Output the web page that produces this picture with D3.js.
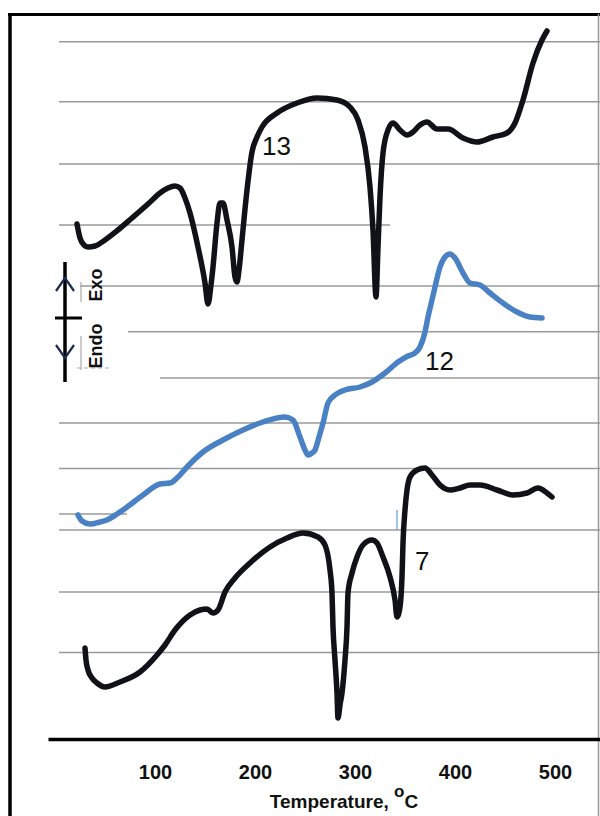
<!DOCTYPE html>
<html><head><meta charset="utf-8">
<script src="https://cdn.jsdelivr.net/npm/d3@7"></script>
<style>
html,body{margin:0;padding:0;background:#fff;}
svg{display:block;font-family:Arial,"Liberation Sans",sans-serif;}
</style></head>
<body>
<svg id="chart" width="600" height="816"></svg>
<script>
// ---- data (temperature °C, signal in arbitrary DTA units) ----
const xTicks = [100, 200, 300, 400, 500];
const curve13 = [[22,51.5],[25,50.1],[29,49.4],[33,49.2],[40,49.3],[50,49.9],[63,50.9],[77,52.1],[93,53.5],[105,54.6],[113,55.1],[120,55.3],[125,55.1],[130,54.1],[135,52.6],[143,49.2],[150,45.6],[153,43.5],[156,45.4],[158,47.2],[162,51.6],[165,53.6],[168,53.6],[172,51.9],[177,49.2],[180,46.2],[182,45.7],[184,46.9],[187,49.9],[192,54.9],[197,58.7],[202,60.2],[207,61.2],[222,62.6],[242,63.6],[262,64.1],[282,63.9],[295,63.2],[303,61.9],[310,59.2],[315,55.2],[318,50.9],[321,44.2],[323,49.2],[325,54.2],[328,58.6],[333,60.9],[338,61.6],[345,60.9],[352,60.4],[358,60.7],[365,61.4],[372,61.7],[382,61.0],[393,61.0],[408,60.1],[422,59.7],[438,60.2],[452,60.6],[460,61.6],[468,63.9],[478,67.6],[487,69.9],[492,70.8]];
const curve12 = [[23,22.4],[27,21.8],[35,21.5],[45,21.7],[52,21.9],[62,22.5],[72,23.2],[88,24.4],[105,25.5],[115,25.6],[123,26.2],[132,27.2],[148,28.7],[168,29.9],[188,30.9],[208,31.7],[230,32.2],[238,31.9],[245,30.2],[250,28.9],[253,28.4],[257,28.6],[260,28.9],[264,30.2],[268,31.6],[273,33.6],[280,34.4],[290,34.9],[305,35.2],[317,35.7],[330,36.6],[343,37.7],[353,38.3],[360,38.6],[365,39.2],[370,40.7],[373,42.2],[377,43.9],[380,45.2],[385,47.2],[390,48.2],[395,48.5],[400,48.1],[408,46.6],[415,45.6],[425,45.4],[435,44.6],[448,43.6],[462,42.7],[475,42.2],[487,42.1]];
const curve7 = [[30,9.1],[31,7.9],[33,6.9],[37,6.1],[42,5.6],[50,5.2],[65,5.7],[85,6.7],[102,8.4],[110,9.4],[120,10.9],[135,12.4],[145,12.9],[152,13.0],[158,12.6],[163,12.9],[170,14.7],[180,16.1],[195,17.6],[215,19.2],[232,20.1],[248,20.6],[263,20.2],[270,19.4],[275,16.9],[277,14.6],[278,11.2],[280,7.9],[282,4.6],[283,2.1],[285,3.4],[287,4.6],[290,7.9],[292,11.2],[293,14.6],[297,16.6],[302,18.2],[308,19.4],[317,19.9],[322,19.6],[328,18.2],[335,16.2],[340,13.9],[342,12.2],[345,13.2],[347,16.2],[348,19.6],[350,22.9],[352,24.9],[355,26.2],[362,26.9],[370,27.1],[377,26.4],[385,25.4],[395,24.9],[405,25.1],[415,25.4],[425,25.4],[442,24.9],[458,24.4],[472,24.6],[483,25.1],[492,24.6],[497,24.2]];
const seriesNames = ["13", "12", "7"];
const seriesColors = ["#111118", "#4a80c4", "#111118"];
const labelPos = [[207, 58.4], [370, 36.9], [360, 16.9]];
const gridValues = [69.73, 63.73, 57.5, 51.4, 45.3, 40.73, 36.1, 31.6, 27.05, 22.5, 20.9, 14.7, 8.65];
const gridFrom   = [4, 4, 4, 4, 25, 73, 105, 4, 4, 4, 4, 4, 4];
const gridTo     = [545, 545, 545, 335, 545, 545, 545, 545, 545, 72, 545, 545, 545];
const xLabel = "Temperature, ";

// ---- scales ----
const svg = d3.select("#chart");
const x = d3.scaleLinear().domain([-7, 545]).range([48, 600]);
const y = d3.scaleLinear().domain([0, 70]).range([739, 39]);

// frame
svg.append("line").attr("x1", 10).attr("x2", 10).attr("y1", 13).attr("y2", 816)
  .attr("stroke", "#000").attr("stroke-width", 3.5);
svg.append("line").attr("x1", 8).attr("x2", 600).attr("y1", 14.5).attr("y2", 14.5)
  .attr("stroke", "#000").attr("stroke-width", 3);
svg.append("line").attr("x1", 598.5).attr("x2", 598.5).attr("y1", 14).attr("y2", 816)
  .attr("stroke", "#999").attr("stroke-width", 1.5);

// gridlines
svg.append("g").selectAll("line").data(gridValues).join("line")
  .attr("x1", (d, i) => x(gridFrom[i])).attr("x2", (d, i) => x(gridTo[i]))
  .attr("y1", d => y(d)).attr("y2", d => y(d))
  .attr("stroke", "#9a9a9a").attr("stroke-width", 1.5);

// x axis
const xAxis = d3.axisBottom(x).tickValues(xTicks).tickSize(0).tickPadding(26);
const gx = svg.append("g").attr("transform", `translate(0,${y(0)})`).call(xAxis);
gx.select(".domain").attr("stroke", "#000").attr("stroke-width", 3.5);
gx.selectAll("text").attr("font-size", 20).attr("font-weight", "bold").attr("fill", "#111")
  .attr("font-family", "Arial, 'Liberation Sans', sans-serif");

const tl = svg.append("text").attr("x", 344).attr("y", 808).attr("text-anchor", "middle")
  .attr("font-size", 19).attr("font-weight", "bold").attr("fill", "#111");
tl.append("tspan").text(xLabel);
tl.append("tspan").attr("dy", -11).attr("font-size", 17).text("o");
tl.append("tspan").attr("dy", 11).text("C");

// curves
const line = d3.line().x(d => x(d[0])).y(d => y(d[1])).curve(d3.curveMonotoneX);
const allCurves = [curve13, curve12, curve7];
svg.append("g").selectAll("path").data(allCurves).join("path")
  .attr("d", line).attr("fill", "none")
  .attr("stroke", (d, i) => seriesColors[i])
  .attr("stroke-width", 5.5)
  .attr("stroke-linejoin", "round").attr("stroke-linecap", "round");

// curve labels
svg.append("g").selectAll("text").data(seriesNames).join("text")
  .attr("x", (d, i) => x(labelPos[i][0])).attr("y", (d, i) => y(labelPos[i][1]))
  .attr("font-size", 26).attr("fill", "#111").text(d => d);

// Endo / Exo indicator
const ind = svg.append("g").attr("stroke", "#000").attr("fill", "none");
ind.append("line").attr("x1", 65).attr("x2", 65).attr("y1", 262).attr("y2", 382).attr("stroke-width", 3.5);
ind.append("line").attr("x1", 55).attr("x2", 82).attr("y1", 318).attr("y2", 318).attr("stroke-width", 3);
ind.append("path").attr("d", "M56,291 L65,278 L74,291").attr("stroke-width", 2.2).attr("stroke", "#1a2a50");
ind.append("path").attr("d", "M56,345 L65,358 L74,345").attr("stroke-width", 2.2).attr("stroke", "#1a2a50");
const br = svg.append("g").attr("stroke", "#aaa").attr("stroke-width", 1.2);
br.append("line").attr("x1", 81).attr("x2", 81).attr("y1", 282).attr("y2", 302);
br.append("line").attr("x1", 81).attr("x2", 81).attr("y1", 336).attr("y2", 370);
br.append("line").attr("x1", 77).attr("x2", 110).attr("y1", 368).attr("y2", 368).attr("stroke-dasharray", "4 3");
br.append("line").attr("x1", 397).attr("x2", 397).attr("y1", 510).attr("y2", 530).attr("stroke", "#6a9ad0");
svg.append("text").attr("transform", "translate(102,285) rotate(-90)").attr("text-anchor", "middle")
  .attr("font-size", 18).attr("font-weight", "bold").attr("fill", "#111").text("Exo");
svg.append("text").attr("transform", "translate(102,346) rotate(-90)").attr("text-anchor", "middle")
  .attr("font-size", 18).attr("font-weight", "bold").attr("fill", "#111").text("Endo");
</script>
</body></html>
